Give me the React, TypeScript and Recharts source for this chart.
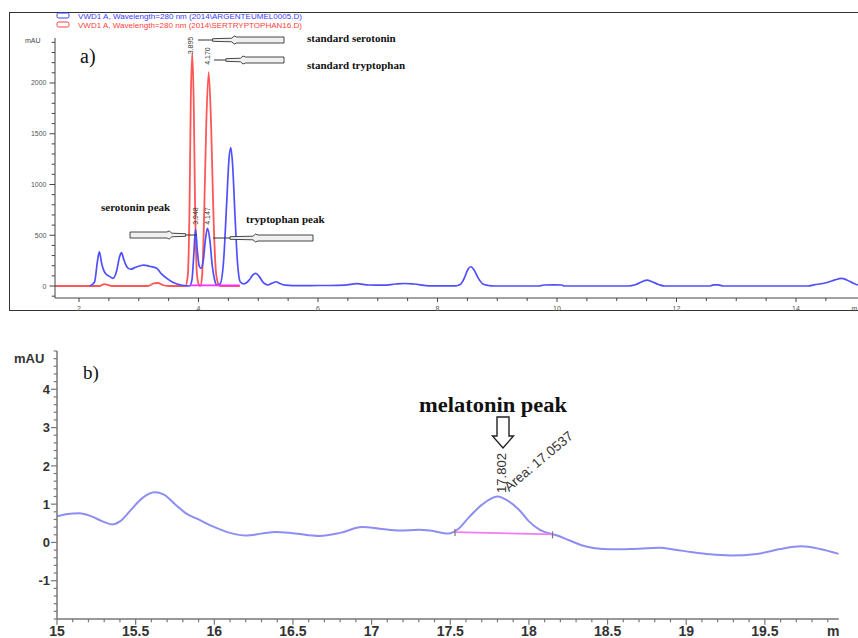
import React from 'react';
import { LineChart, Line, XAxis, YAxis, ReferenceDot } from 'recharts';

// ---------- Panel a) data (time in min, signal in mAU) ----------
const blueATime = [2.18, 2.26, 2.31, 2.34, 2.38, 2.44, 2.51, 2.57, 2.63, 2.68, 2.71, 2.75, 2.8, 2.86, 2.95, 3.08, 3.18, 3.3, 3.38, 3.47, 3.56, 3.64, 3.75, 3.85, 3.89, 3.92, 3.95, 3.98, 4.01, 4.04, 4.08, 4.12, 4.15, 4.19, 4.23, 4.27, 4.3, 4.36, 4.42, 4.47, 4.51, 4.54, 4.57, 4.61, 4.65, 4.7, 4.76, 4.85, 4.91, 4.96, 5.02, 5.09, 5.16, 5.24, 5.3, 5.36, 5.45, 5.7, 6.03, 6.2, 6.45, 6.65, 6.85, 7.1, 7.3, 7.45, 7.6, 7.87, 8.3, 8.38, 8.45, 8.51, 8.56, 8.61, 8.68, 8.76, 8.85, 8.95, 9.7, 9.78, 9.95, 10.08, 10.12, 11.2, 11.32, 11.45, 11.51, 11.58, 11.7, 11.8, 12.55, 12.62, 12.7, 12.78, 14.2, 14.3, 14.45, 14.55, 14.65, 14.76, 14.85, 14.95, 15.04, 15.2];
const blueAValue = [0, 40, 250, 337, 220, 125, 95, 75, 150, 290, 328, 260, 190, 165, 185, 206, 195, 174, 120, 75, 40, 20, 5, 0, 60, 300, 557, 350, 200, 174, 250, 480, 567, 450, 200, 60, 10, 20, 250, 800, 1250, 1364, 1200, 700, 250, 40, 20, 60, 110, 125, 90, 30, 10, 30, 42, 25, 8, 3, 5, 5, 8, 23, 10, 8, 20, 25, 20, 2, 2, 15, 80, 165, 190, 160, 80, 20, 5, 0, 0, 10, 12, 10, 0, 0, 15, 50, 59, 45, 15, 0, 0, 12, 12, 0, 0, 12, 25, 40, 60, 75, 60, 30, 10, 5];

const redATime = [1.6, 2.35, 2.42, 2.48, 2.55, 3.15, 3.25, 3.32, 3.4, 3.5, 3.78, 3.82, 3.85, 3.87, 3.895, 3.92, 3.94, 3.97, 4.0, 4.03, 4.06, 4.09, 4.13, 4.17, 4.21, 4.25, 4.29, 4.33, 4.36, 4.69];
const redAValue = [0, 0, 18, 12, 0, 0, 25, 30, 10, 0, 0, 100, 800, 1800, 2290, 1800, 900, 150, 20, 0, 100, 600, 1600, 2107, 1600, 700, 150, 20, 0, 0];

const baseATime = [3.85, 4.69];
const baseAValue = [6, 6];

// ---------- Panel b) data ----------
const blueBTime = [15.0, 15.07, 15.14, 15.22, 15.29, 15.35, 15.4, 15.47, 15.54, 15.62, 15.68, 15.75, 15.82, 15.9, 15.99, 16.1, 16.2, 16.3, 16.39, 16.5, 16.67, 16.8, 16.94, 17.05, 17.18, 17.3, 17.37, 17.49, 17.55, 17.62, 17.7, 17.8, 17.87, 17.94, 18.0, 18.07, 18.18, 18.26, 18.34, 18.42, 18.52, 18.65, 18.83, 18.93, 19.03, 19.15, 19.28, 19.45, 19.6, 19.73, 19.85, 19.97];
const blueBValue = [0.68, 0.74, 0.76, 0.68, 0.55, 0.47, 0.55, 0.85, 1.15, 1.31, 1.25, 1.0, 0.76, 0.6, 0.42, 0.25, 0.18, 0.23, 0.27, 0.24, 0.17, 0.25, 0.4, 0.36, 0.31, 0.33, 0.31, 0.23, 0.35, 0.66, 0.98, 1.2, 1.08, 0.84, 0.55, 0.33, 0.18, 0.05, -0.08, -0.15, -0.18, -0.17, -0.14, -0.19, -0.25, -0.31, -0.34, -0.3, -0.17, -0.1, -0.17, -0.3];

const baseBTime = [17.53, 18.15];
const baseBValue = [0.27, 0.21];

// ---------- Tick labels ----------
const topXLabelValues = [2, 4, 6, 8, 10, 12, 14, 15];
const topXLabels = ['2', '4', '6', '8', '10', '12', '14', 'm'];
const topYLabelValues = [0, 500, 1000, 1500, 2000];
const topYLabels = ['0', '500', '1000', '1500', '2000'];
const botXLabelValues = [15, 15.5, 16, 16.5, 17, 17.5, 18, 18.5, 19, 19.5, 19.935];
const botXLabels = ['15', '15.5', '16', '16.5', '17', '17.5', '18', '18.5', '19', '19.5', 'm'];
const botYLabelValues = [-1, 0, 1, 2, 3, 4];
const botYLabels = ['-1', '0', '1', '2', '3', '4'];

const legendA = [
  'VWD1 A, Wavelength=280 nm (2014\\ARGENTEUMEL0005.D)',
  'VWD1 A, Wavelength=280 nm (2014\\SERTRYPTOPHAN16.D)',
];

const zip = (t: number[], v: number[]) => t.map((x, i) => ({ t: x, v: v[i] }));
const r3 = (v: number) => Math.round(v * 1000) / 1000;
const range = (a: number, b: number, s: number) => {
  const out: number[] = [];
  for (let i = 0; a + i * s <= b + 1e-9; i++) out.push(r3(a + i * s));
  return out;
};

const blueA = zip(blueATime, blueAValue);
const redA = zip(redATime, redAValue);
const baseA = zip(baseATime, baseAValue);
const blueB = zip(blueBTime, blueBValue);
const baseB = zip(baseBTime, baseBValue);

const topXTicks = [...range(2, 14.5, 0.5), 15];
const topYTicks = range(-100, 2400, 100);
const botXTicks = [...range(15, 19.9, 0.1), 19.935];
const botYTicks = range(-2, 5, 0.2);

const SANS = 'Liberation Sans, Arial, sans-serif';
const SERIF = 'Liberation Serif, Times New Roman, serif';

function TopXTick(props: any) {
  const { x, y, payload } = props;
  const idx = topXLabelValues.indexOf(r3(payload.value));
  const lab = idx >= 0 ? topXLabels[idx] : null;
  const isUnit = lab === 'm';
  return (
    <g>
      {!isUnit && <line x1={x} x2={x} y1={y} y2={y + (lab ? 4 : 3)} stroke="#444" strokeWidth={1} />}
      {lab && (
        <text x={isUnit ? x + 1.5 : x} y={y + 12.5} textAnchor={isUnit ? 'end' : 'middle'} fontSize={7} fill="#555" fontFamily={SANS}>{lab}</text>
      )}
    </g>
  );
}

function TopYTick(props: any) {
  const { x, y, payload } = props;
  const idx = topYLabelValues.indexOf(r3(payload.value));
  return (
    <g>
      <line x1={x} x2={x - (idx >= 0 ? 5.5 : 3.3)} y1={y} y2={y} stroke="#444" strokeWidth={1} />
      {idx >= 0 && (
        <text x={x - 8.5} y={y + 2.5} textAnchor="end" fontSize={7} fill="#555" fontFamily={SANS}>{topYLabels[idx]}</text>
      )}
    </g>
  );
}

function BotXTick(props: any) {
  const { x, y, payload } = props;
  const idx = botXLabelValues.indexOf(r3(payload.value));
  const lab = idx >= 0 ? botXLabels[idx] : null;
  return (
    <g>
      {lab !== 'm' && <line x1={x} x2={x} y1={y} y2={y + (lab ? 5.7 : 3.3)} stroke="#777" strokeWidth={1.2} />}
      {lab && (
        <text x={x} y={y + 16.5} textAnchor="middle" fontSize={14} fontWeight="bold" fill="#333" fontFamily={SANS}>{lab}</text>
      )}
    </g>
  );
}

function BotYTick(props: any) {
  const { x, y, payload } = props;
  const idx = botYLabelValues.indexOf(r3(payload.value));
  return (
    <g>
      <line x1={x} x2={x - (idx >= 0 ? 6 : 3.3)} y1={y} y2={y} stroke="#777" strokeWidth={1.2} />
      {idx >= 0 && (
        <text x={x - 7} y={y + 4.7} textAnchor="end" fontSize={13} fontWeight="bold" fill="#333" fontFamily={SANS}>{botYLabels[idx]}</text>
      )}
    </g>
  );
}

function BlockArrow({ tip, tail, y }: { tip: number; tail: number; y: number }) {
  const dir = tail > tip ? 1 : -1;
  const L = Math.abs(tail - tip);
  const a = 0.17 * L;
  const b = 0.45 * L;
  const pts = [[a, -1.3], [b - 5, -1.8], [b - 2.5, -4], [b, -3], [L, -3], [L, 3], [b, 3], [b - 2.5, 4], [b - 5, 1.8], [a, 1.3]];
  const p = pts.map(([px, py]) => `${tip + dir * px},${y + py}`).join(' ');
  return (
    <g>
      <line x1={tip} x2={tip + dir * a} y1={y} y2={y} stroke="#333" strokeWidth={1} />
      <polygon points={p} fill="#f0f0f0" stroke="#333" strokeWidth={0.9} />
    </g>
  );
}

function VLabel({ cx, cy, text, size, color }: { cx: number; cy: number; text: string; size: number; color: string }) {
  return (
    <text transform={`translate(${cx},${cy}) rotate(-90)`} textAnchor="middle" dy="0.35em" fontSize={size} fill={color} fontFamily={SANS}>
      {text}
    </text>
  );
}

const endTick = (p: any) => (
  <line x1={p.cx} x2={p.cx} y1={p.cy - 3} y2={p.cy + 4} stroke="#777" strokeWidth={1.2} />
);

export default function App() {
  return (
    <div style={{ position: 'absolute', left: 0, top: 0, width: 858, height: 638, overflow: 'hidden', background: '#fff' }}>
      {/* frame of panel a */}
      <div style={{ position: 'absolute', left: 9, top: 12, width: 920, height: 297, border: '1.6px solid #333' }} />

      {/* panel a */}
      <div style={{ position: 'absolute', left: 0, top: 0 }}>
        <LineChart width={880} height={320} margin={{ top: 38, right: 12.3, bottom: 8, left: 0 }}>
          <XAxis type="number" dataKey="t" domain={[1.598, 15.2]} allowDataOverflow ticks={topXTicks} interval={0}
            tickSize={0} tickMargin={0} tickLine={false} tick={TopXTick} height={14} axisLine={{ stroke: '#444' }} />
          <YAxis type="number" domain={[-118, 2443]} allowDataOverflow ticks={topYTicks} interval={0} width={55}
            tickSize={0} tickMargin={0} tickLine={false} tick={TopYTick} axisLine={{ stroke: '#444' }} />
          <Line data={redA} dataKey="v" type="monotone" stroke="#ff5656" strokeWidth={1.8} dot={false} isAnimationActive={false} />
          <Line data={blueA} dataKey="v" type="monotone" stroke="#4f4fff" strokeWidth={1.7} dot={false} isAnimationActive={false} />
          <Line data={baseA} dataKey="v" type="linear" stroke="#ff30ff" strokeWidth={1.6} dot={false} isAnimationActive={false} />
        </LineChart>
      </div>

      {/* panel b */}
      <div style={{ position: 'absolute', left: 0, top: 330 }}>
        <LineChart width={858} height={308} margin={{ top: 21, right: 19.2, bottom: 0, left: 0 }}>
          <XAxis type="number" dataKey="t" domain={[15, 19.97]} allowDataOverflow ticks={botXTicks} interval={0}
            tickSize={0} tickMargin={0} tickLine={false} tick={BotXTick} height={19} axisLine={{ stroke: '#777', strokeWidth: 1.5 }} />
          <YAxis type="number" domain={[-2, 5]} allowDataOverflow ticks={botYTicks} interval={0} width={57}
            tickSize={0} tickMargin={0} tickLine={false} tick={BotYTick} axisLine={{ stroke: '#777', strokeWidth: 1.5 }} />
          <Line data={blueB} dataKey="v" type="monotone" stroke="#8e8ef2" strokeWidth={2} dot={false} isAnimationActive={false} />
          <Line data={baseB} dataKey="v" type="linear" stroke="#f27cf2" strokeWidth={1.6} dot={false} isAnimationActive={false} />
          <ReferenceDot x={baseBTime[0]} y={baseBValue[0]} r={0} shape={endTick} />
          <ReferenceDot x={baseBTime[1]} y={baseBValue[1]} r={0} shape={endTick} />
        </LineChart>
      </div>

      {/* annotations */}
      <svg width={858} height={638} style={{ position: 'absolute', left: 0, top: 0, pointerEvents: 'none' }}>
        {/* legend a */}
        <rect x={57} y={13} width={12} height={5} rx={1.5} fill="none" stroke="#3c3cff" strokeWidth={1} />
        <rect x={57} y={22} width={12} height={5} rx={1.5} fill="none" stroke="#ff4040" strokeWidth={1} />
        <text x={78} y={18.5} fontSize={7.6} fill="#3c3cff" fontFamily={SANS} textLength={224} lengthAdjust="spacingAndGlyphs">{legendA[0]}</text>
        <text x={78} y={27.5} fontSize={7.6} fill="#ff4040" fontFamily={SANS} textLength={224} lengthAdjust="spacingAndGlyphs">{legendA[1]}</text>
        <text x={25} y={43} fontSize={7} fill="#444" fontFamily={SANS}>mAU</text>
        <text x={80} y={63} fontSize={20} fill="#111" fontFamily={SERIF}>a)</text>

        <text x={307} y={41.5} fontSize={11} fontWeight="bold" fill="#111" fontFamily={SERIF}>standard serotonin</text>
        <text x={307} y={69} fontSize={11} fontWeight="bold" fill="#111" fontFamily={SERIF}>standard tryptophan</text>
        <BlockArrow tip={198} tail={284} y={40} />
        <BlockArrow tip={214} tail={284} y={60} />

        <text x={101} y={211} fontSize={11} fontWeight="bold" fill="#111" fontFamily={SERIF}>serotonin peak</text>
        <text x={246} y={223} fontSize={11} fontWeight="bold" fill="#111" fontFamily={SERIF}>tryptophan peak</text>
        <BlockArrow tip={197} tail={130} y={235} />
        <BlockArrow tip={213} tail={313} y={238} />

        <VLabel cx={190.5} cy={45.5} text="3.895" size={7} color="#333" />
        <VLabel cx={207.5} cy={56} text="4.170" size={7} color="#333" />
        <VLabel cx={195.5} cy={216} text="3.948" size={7} color="#333" />
        <VLabel cx={207.5} cy={216} text="4.147" size={7} color="#333" />

        {/* panel b */}
        <text x={14} y={363} fontSize={13} fontWeight="bold" fill="#333" fontFamily={SANS}>mAU</text>
        <text x={83} y={379} fontSize={19} fill="#111" fontFamily={SERIF}>b)</text>
        <text x={419} y={412} fontSize={20} fontWeight="bold" fill="#111" fontFamily={SERIF} textLength={148} lengthAdjust="spacingAndGlyphs">melatonin peak</text>
        <polygon points="497,417 509,417 509,436 513.5,436 503,448 492.5,436 497,436" fill="#fff" stroke="#222" strokeWidth={1.4} />
        <VLabel cx={501.5} cy={473} text="17.802" size={13} color="#333" />
        <text transform="translate(509,492) rotate(-40)" fontSize={13.5} fill="#333" fontFamily={SANS}>Area: 17.0537</text>
      </svg>
    </div>
  );
}
